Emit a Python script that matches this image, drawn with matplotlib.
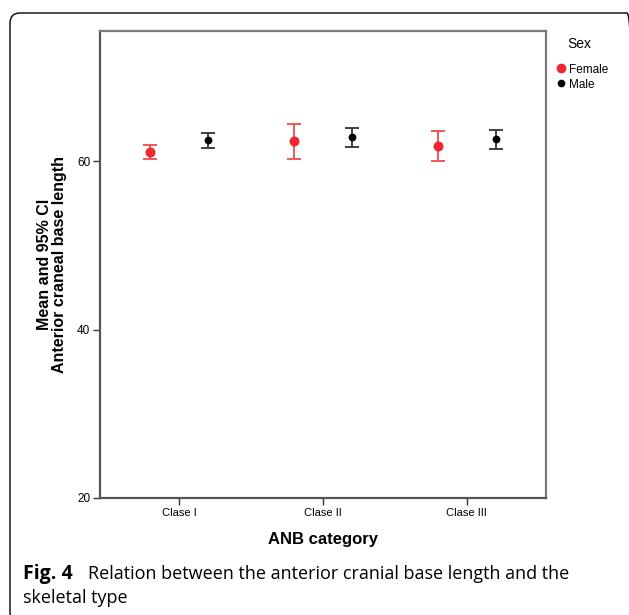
import matplotlib
matplotlib.use("Agg")
import matplotlib.pyplot as plt
import numpy as np
from matplotlib.patches import FancyBboxPatch
from matplotlib.transforms import IdentityTransform

# -------------------- data --------------------
categories = ["Clase I", "Clase II", "Clase III"]
sexes = ["Female", "Male"]
female_mean = [61.1, 62.4, 61.85]
female_lo = [60.3, 60.3, 60.1]
female_hi = [62.0, 64.5, 63.6]
male_mean = [62.5, 62.9, 62.7]
male_lo = [61.65, 61.7, 61.5]
male_hi = [63.35, 64.0, 63.75]
y_ticks = [20, 40, 60]

W, H = 629, 615
fig = plt.figure(figsize=(W / 100, H / 100), dpi=100)
fig.patch.set_facecolor("white")

# rounded outer frame in pixel coords (runs just off the right/bottom edges)
frame = FancyBboxPatch((10, H - 622), 637 - 10, 622 - 13,
                       boxstyle="round,pad=0,rounding_size=10",
                       transform=IdentityTransform(), facecolor="none",
                       edgecolor="black", linewidth=1.0, clip_on=False)
fig.patches.append(frame)

ax = fig.add_axes([100 / W, 1 - 498 / H, (546 - 100) / W, (498 - 31) / H])
font = "Liberation Sans"

x = np.arange(len(categories))
off = 0.2
series = [
    (female_mean, female_lo, female_hi, "#f0282d", "#f04a4e", -off, 6.2),
    (male_mean, male_lo, male_hi, "black", "#333333", off, 4.6),
]
for mean, lo, hi, mc, ec, dx, ms in series:
    mean = np.array(mean)
    yerr = [mean - np.array(lo), np.array(hi) - mean]
    ax.errorbar(x + dx, mean, yerr=yerr, fmt="o", color=mc, ecolor=ec,
                markersize=ms, elinewidth=1.3, capsize=5.2, capthick=1.3, zorder=3)

ax.set_xlim(-0.55, 2.55)
ax.set_ylim(20, 75.5)
ax.set_xticks(x)
ax.set_xticklabels(categories, fontsize=8, family=font)
ax.set_yticks(y_ticks)
ax.set_yticklabels([str(t) for t in y_ticks], fontsize=8.5, family=font)
ax.tick_params(axis="both", length=5, width=1.0, color="#333333", pad=2)
for s in ax.spines.values():
    s.set_color("#7a7a7a")
    s.set_linewidth(1.6)
ax.spines["left"].set_color("#555555")
ax.spines["bottom"].set_color("#555555")

ax.set_xlabel("ANB category", fontsize=12, fontweight="bold", family=font, labelpad=10)
ax.set_ylabel("Mean and 95% CI\nAnterior craneal base length", fontsize=11.5,
              fontweight="bold", family=font, labelpad=7, linespacing=1.0)

# legend
fig.text(567 / W, 1 - 44 / H, "Sex", fontsize=10, family=font, va="center", ha="left")
fig.lines.append(plt.Line2D([561 / W], [1 - 68 / H], marker="o", color="#f0282d",
                            markersize=6, transform=fig.transFigure))
fig.text(569 / W, 1 - 70 / H, "Female", fontsize=8.5, family=font, va="center", ha="left")
fig.lines.append(plt.Line2D([561 / W], [1 - 83 / H], marker="o", color="black",
                            markersize=4.5, transform=fig.transFigure))
fig.text(569 / W, 1 - 85 / H, "Male", fontsize=8.5, family=font, va="center", ha="left")

# caption
cap = ["Open Sans", "DejaVu Sans"]
fig.text(23 / W, 1 - 574 / H, "Fig. 4", fontsize=14, fontweight="bold",
         family=cap, va="center", ha="left")
fig.text(88 / W, 1 - 574 / H, "Relation between the anterior cranial base length and the",
         fontsize=13, family=cap, va="center", ha="left")
fig.text(23 / W, 1 - 598 / H, "skeletal type", fontsize=13, family=cap,
         va="center", ha="left")

fig.savefig("out.png", dpi=100)
